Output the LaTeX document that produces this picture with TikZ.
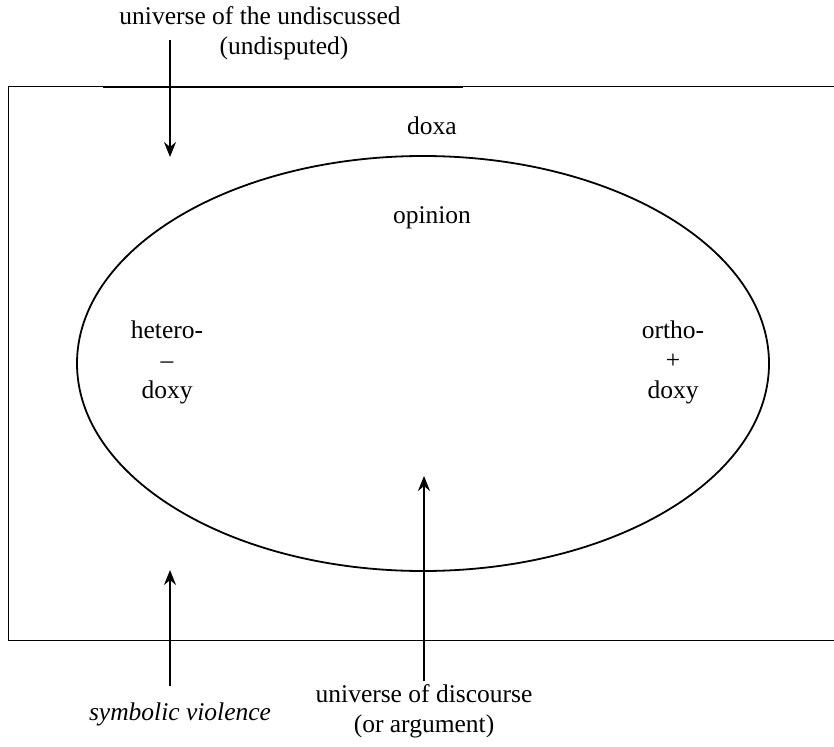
\documentclass[tikz,border=0pt]{standalone}
\usepackage{fontspec}
\setmainfont{Liberation Serif}
\usepackage{tikz}
\usetikzlibrary{arrows.meta,positioning}

\begin{document}
\begin{tikzpicture}[x=1pt,y=-1pt,
lbl/.style={inner sep=0pt,align=center,font=\fontsize{25.5}{30}\selectfont},
arr/.style={-{Stealth[length=15pt,width=12pt,inset=5pt]},line width=1.8pt}]
\useasboundingbox (0,0) rectangle (834,746);
% field
\draw[line width=1pt] (834,87) -- (8,87) -- (8,640) -- (834,640);
\draw[line width=1.6pt] (103,87) -- (463,87);
\draw[line width=1.8pt] (423,363.5) ellipse [x radius=346,y radius=207.5];
% labels
\node[lbl] (undisc) at (260,33) {universe of the undiscussed\\\hspace*{48pt}(undisputed)};
\node[lbl] (doxa) at (432,126) {doxa};
\node[lbl] (opinion) at (432,218) {opinion};
\node[lbl] (hetero) at (167,362) {hetero-\\--\\doxy};
\node[lbl] (ortho) at (673,362) {ortho-\\+\\doxy};
\node[lbl,font=\fontsize{25.5}{30}\selectfont\itshape] (symb) at (180,714) {symbolic violence};
\node[lbl] (disc) at (424,711) {universe of discourse\\(or argument)};
\coordinate (a) at (170,40);
\coordinate (b) at (170,157);
\coordinate (c) at (170,570);
\coordinate (d) at (424,476);
\draw[arr] (a) -- (b);
\draw[arr] (symb.north -| c) ++(0,-16) -- (c);
\draw[arr] (disc.north) ++(0,-3) -- (d);
\end{tikzpicture}
\end{document}
